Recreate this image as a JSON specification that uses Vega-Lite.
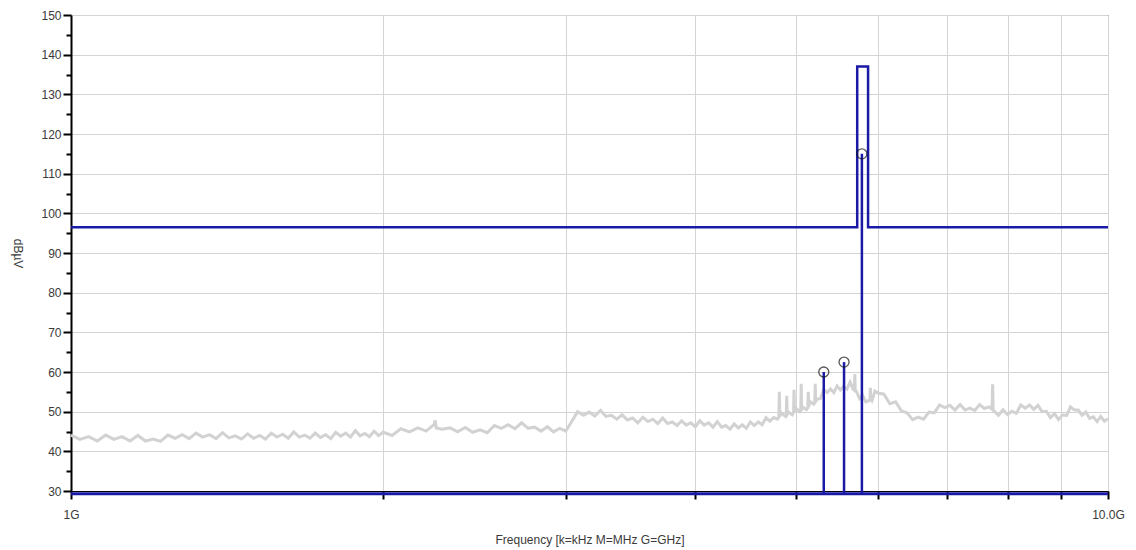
{
  "$schema": "https://vega.github.io/schema/vega-lite/v6.json",
  "width": 1037,
  "height": 476,
  "autosize": {"type": "none"},
  "padding": {"left": 71, "top": 15, "right": 28, "bottom": 59},
  "background": "white",
  "config": {
    "view": {"stroke": "#444444", "strokeWidth": 1},
    "font": "Liberation Sans",
    "axis": {"labelFont": "Liberation Sans", "titleFont": "Liberation Sans", "labelFontSize": 12, "titleFontSize": 12, "labelColor": "#3a3a3a", "titleColor": "#3a3a3a", "titleFontWeight": "normal", "labelOverlap": false}
  },
  "datasets": {
    "noise": [
      {"f":1.00,"v":44.1},{"f":1.02,"v":43.0},{"f":1.04,"v":43.7},{"f":1.06,"v":42.6},{"f":1.08,"v":44.1},{"f":1.10,"v":43.0},{"f":1.12,"v":43.7},{"f":1.14,"v":42.6},{"f":1.16,"v":44.0},{"f":1.18,"v":42.6},
      {"f":1.20,"v":43.1},{"f":1.22,"v":42.5},{"f":1.24,"v":44.1},{"f":1.26,"v":43.3},{"f":1.28,"v":44.2},{"f":1.30,"v":43.2},{"f":1.32,"v":44.6},{"f":1.34,"v":43.6},{"f":1.36,"v":44.2},{"f":1.38,"v":43.2},
      {"f":1.40,"v":44.7},{"f":1.42,"v":43.4},{"f":1.44,"v":43.9},{"f":1.46,"v":43.1},{"f":1.48,"v":44.4},{"f":1.50,"v":43.3},{"f":1.52,"v":44.0},{"f":1.54,"v":43.1},{"f":1.56,"v":44.6},{"f":1.58,"v":43.6},
      {"f":1.60,"v":44.3},{"f":1.62,"v":43.3},{"f":1.64,"v":44.9},{"f":1.66,"v":43.6},{"f":1.68,"v":44.1},{"f":1.70,"v":43.3},{"f":1.72,"v":44.6},{"f":1.74,"v":43.5},{"f":1.76,"v":44.2},{"f":1.78,"v":43.2},
      {"f":1.80,"v":44.8},{"f":1.82,"v":43.8},{"f":1.84,"v":44.6},{"f":1.86,"v":43.6},{"f":1.88,"v":45.2},{"f":1.90,"v":43.9},{"f":1.92,"v":44.5},{"f":1.94,"v":43.7},{"f":1.96,"v":45.1},{"f":1.98,"v":44.0},
      {"f":2.00,"v":44.8},{"f":2.04,"v":44.0},{"f":2.08,"v":45.7},{"f":2.12,"v":44.9},{"f":2.16,"v":45.9},{"f":2.20,"v":45.1},{"f":2.24,"v":46.8},{"f":2.245,"v":47.8},{"f":2.25,"v":45.9},{"f":2.28,"v":45.6},{"f":2.32,"v":45.9},{"f":2.36,"v":44.9},
      {"f":2.40,"v":46.0},{"f":2.44,"v":44.8},{"f":2.48,"v":45.4},{"f":2.52,"v":44.7},{"f":2.56,"v":46.5},{"f":2.60,"v":45.8},{"f":2.64,"v":46.7},{"f":2.68,"v":45.7},{"f":2.72,"v":47.2},{"f":2.76,"v":45.8},
      {"f":2.80,"v":46.1},{"f":2.84,"v":45.1},{"f":2.88,"v":46.2},{"f":2.92,"v":44.9},{"f":2.96,"v":45.8},{"f":3.00,"v":45.1},{"f":3.04,"v":47.5},{"f":3.08,"v":50.0},{"f":3.12,"v":49.1},{"f":3.16,"v":49.9},
      {"f":3.20,"v":48.9},{"f":3.24,"v":50.3},{"f":3.28,"v":48.8},{"f":3.32,"v":49.1},{"f":3.36,"v":48.1},{"f":3.40,"v":49.2},{"f":3.44,"v":47.9},{"f":3.48,"v":48.4},{"f":3.52,"v":47.2},{"f":3.56,"v":48.6},
      {"f":3.60,"v":47.5},{"f":3.64,"v":48.1},{"f":3.68,"v":47.0},{"f":3.72,"v":48.4},{"f":3.76,"v":47.0},{"f":3.80,"v":47.4},{"f":3.84,"v":46.5},{"f":3.88,"v":47.7},{"f":3.92,"v":46.6},{"f":3.96,"v":47.2},
      {"f":4.00,"v":46.2},{"f":4.04,"v":47.7},{"f":4.08,"v":46.6},{"f":4.12,"v":47.2},{"f":4.16,"v":46.1},{"f":4.20,"v":47.5},{"f":4.24,"v":46.1},{"f":4.28,"v":46.5},{"f":4.32,"v":45.6},{"f":4.36,"v":46.9},
      {"f":4.40,"v":45.9},{"f":4.44,"v":46.7},{"f":4.48,"v":45.8},{"f":4.52,"v":47.4},{"f":4.56,"v":46.5},{"f":4.60,"v":47.4},{"f":4.64,"v":46.7},{"f":4.68,"v":48.5},{"f":4.72,"v":47.6},{"f":4.76,"v":48.5},
      {"f":4.80,"v":48.1},{"f":4.815,"v":48.6},{"f":4.82,"v":55.0},{"f":4.825,"v":48.8},{"f":4.84,"v":49.7},{"f":4.88,"v":48.9},{"f":4.895,"v":49.2},{"f":4.90,"v":54.0},{"f":4.905,"v":49.3},{"f":4.92,"v":49.9},
      {"f":4.96,"v":49.2},{"f":4.975,"v":49.8},{"f":4.98,"v":55.5},{"f":4.985,"v":49.9},{"f":5.00,"v":50.9},{"f":5.04,"v":50.1},{"f":5.055,"v":50.5},{"f":5.06,"v":57.0},{"f":5.065,"v":50.6},{"f":5.08,"v":51.1},
      {"f":5.12,"v":50.5},{"f":5.135,"v":51.0},{"f":5.14,"v":55.0},{"f":5.145,"v":51.2},{"f":5.16,"v":52.6},{"f":5.20,"v":51.9},{"f":5.215,"v":52.4},{"f":5.22,"v":57.0},{"f":5.225,"v":52.6},{"f":5.24,"v":53.1},
      {"f":5.28,"v":53.3},{"f":5.32,"v":55.6},{"f":5.36,"v":54.8},{"f":5.40,"v":55.7},{"f":5.44,"v":54.8},{"f":5.48,"v":56.5},{"f":5.52,"v":55.5},{"f":5.56,"v":56.4},{"f":5.60,"v":55.7},{"f":5.64,"v":57.5},
      {"f":5.68,"v":55.6},{"f":5.695,"v":55.4},{"f":5.70,"v":59.5},{"f":5.705,"v":55.2},{"f":5.72,"v":55.1},{"f":5.76,"v":53.3},{"f":5.80,"v":54.1},{"f":5.84,"v":52.5},{"f":5.88,"v":52.8},{"f":5.895,"v":53.0},{"f":5.90,"v":56.0},{"f":5.905,"v":53.0},{"f":5.92,"v":52.7},{"f":5.96,"v":55.2},
      {"f":6.00,"v":54.7},{"f":6.08,"v":54.4},{"f":6.16,"v":52.0},{"f":6.24,"v":52.5},{"f":6.32,"v":50.2},{"f":6.40,"v":49.7},{"f":6.48,"v":48.0},{"f":6.56,"v":48.6},{"f":6.64,"v":48.1},{"f":6.72,"v":49.9},
      {"f":6.80,"v":49.7},{"f":6.88,"v":51.7},{"f":6.96,"v":51.0},{"f":7.04,"v":51.6},{"f":7.12,"v":50.4},{"f":7.20,"v":51.8},{"f":7.28,"v":50.4},{"f":7.36,"v":50.9},{"f":7.44,"v":50.3},{"f":7.52,"v":51.8},
      {"f":7.60,"v":50.8},{"f":7.68,"v":51.2},{"f":7.73,"v":50.6},{"f":7.74,"v":56.9},{"f":7.75,"v":50.4},{"f":7.76,"v":50.2},{"f":7.84,"v":49.1},{"f":7.92,"v":50.5},{"f":8.00,"v":49.3},{"f":8.08,"v":50.1},
      {"f":8.16,"v":49.6},{"f":8.24,"v":51.7},{"f":8.32,"v":50.9},{"f":8.40,"v":51.7},{"f":8.48,"v":50.6},{"f":8.56,"v":51.6},{"f":8.64,"v":50.0},{"f":8.72,"v":50.1},{"f":8.80,"v":48.5},{"f":8.88,"v":49.5},
      {"f":8.96,"v":48.0},{"f":9.04,"v":49.2},{"f":9.12,"v":49.0},{"f":9.20,"v":51.2},{"f":9.28,"v":50.4},{"f":9.36,"v":50.4},{"f":9.44,"v":49.1},{"f":9.52,"v":49.9},{"f":9.60,"v":48.3},{"f":9.68,"v":48.7},
      {"f":9.76,"v":47.5},{"f":9.84,"v":48.8},{"f":9.92,"v":47.6},{"f":10.00,"v":48.2}
    ],
    "limit": [
      {"i":0,"f":1.0,"v":96.5},{"i":1,"f":5.73,"v":96.5},{"i":2,"f":5.73,"v":137},{"i":3,"f":5.87,"v":137},{"i":4,"f":5.87,"v":96.5},{"i":5,"f":10.0,"v":96.5}
    ],
    "peaks": [
      {"f":5.32,"v":60.0},{"f":5.565,"v":62.5},{"f":5.79,"v":115.0}
    ],
    "floor": [{"i":0,"f":1.0,"v":29.3},{"i":1,"f":10.0,"v":29.3}]
  },
  "resolve": {"axis": {"y": "independent"}},
  "layer": [
    {
      "data": {"name": "noise"},
      "mark": {"type": "line", "color": "#d2d2d2", "strokeWidth": 3, "interpolate": "linear"},
      "encoding": {
        "x": {"field": "f", "type": "quantitative", "scale": {"type": "log", "domain": [1, 10], "nice": false},
          "axis": {"values": [1,2,3,4,5,6,7,8,9,10], "labelExpr": "datum.value == 1 ? '1G' : (datum.value == 10 ? '10.0G' : '')", "labelOverlap": false, "title": "Frequency [k=kHz M=MHz G=GHz]", "titlePadding": 14, "grid": true, "gridColor": "#d4d4d4", "gridWidth": 1, "tickColor": "#000000", "tickWidth": 2, "tickSize": 8, "domainColor": "#000000", "labelPadding": 10, "labelFlush": false}},
        "y": {"field": "v", "type": "quantitative", "scale": {"domain": [30, 150], "nice": false, "zero": false},
          "axis": {"orient": "left", "values": [30,40,50,60,70,80,90,100,110,120,130,140,150], "labelOverlap": false, "title": "dBµV", "titleAngle": 90, "titlePadding": 30, "grid": true, "gridColor": "#d4d4d4", "gridWidth": 1, "tickSize": 8, "tickColor": "#000000", "tickWidth": 2, "domainColor": "#000000", "domainWidth": 2, "labelPadding": 2}}
      }
    },
    {
      "data": {"name": "limit"},
      "mark": {"type": "line", "color": "#1a1aa6", "strokeWidth": 2.5},
      "encoding": {
        "x": {"field": "f", "type": "quantitative"},
        "y": {"field": "v", "type": "quantitative",
          "axis": {"orient": "left", "values": [35,45,55,65,75,85,95,105,115,125,135,145], "labels": false, "title": null, "grid": false, "domain": false, "tickSize": 5, "tickColor": "#000000", "tickWidth": 2}},
        "order": {"field": "i", "type": "quantitative"}
      }
    },
    {
      "data": {"name": "floor"},
      "mark": {"type": "line", "color": "#1a1aa6", "strokeWidth": 3},
      "encoding": {
        "x": {"field": "f", "type": "quantitative"},
        "y": {"field": "v", "type": "quantitative", "axis": null}
      }
    },
    {
      "data": {"name": "peaks"},
      "mark": {"type": "rule", "color": "#1a1aa6", "strokeWidth": 2.5},
      "encoding": {
        "x": {"field": "f", "type": "quantitative"},
        "y": {"field": "v", "type": "quantitative", "axis": null},
        "y2": {"datum": 29.3}
      }
    },
    {
      "data": {"name": "peaks"},
      "mark": {"type": "point", "shape": "circle", "filled": false, "color": "#111111", "size": 100, "strokeWidth": 1.3},
      "encoding": {
        "x": {"field": "f", "type": "quantitative"},
        "y": {"field": "v", "type": "quantitative", "axis": null}
      }
    }
  ]
}
